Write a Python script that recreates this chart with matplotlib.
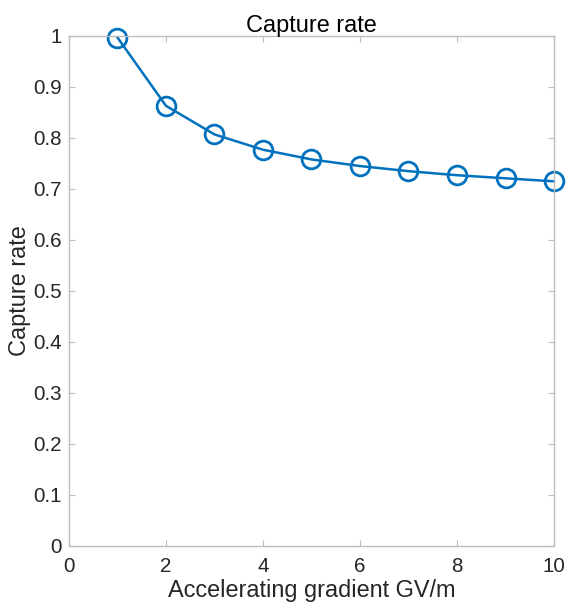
import matplotlib.pyplot as plt
import numpy as np

# data
gradient = [1, 2, 3, 4, 5, 6, 7, 8, 9, 10]
capture_rate = [0.997, 0.863, 0.807, 0.777, 0.758, 0.745, 0.735, 0.727, 0.721, 0.715]

plt.rcParams['font.family'] = ['Liberation Sans', 'DejaVu Sans']

fig = plt.figure(figsize=(5.66, 6.07), dpi=100)
ax = fig.add_axes([0.1219, 0.1005, 0.8569, 0.8402])

ax.plot(gradient, capture_rate, color='#0072BD', linewidth=1.8,
        marker='o', markersize=13.5, markerfacecolor='none',
        markeredgewidth=2, clip_on=False)

ax.set_xlim(0, 10)
ax.set_ylim(0, 1)
ax.set_xticks(np.arange(0, 11, 2))
ax.set_yticks(np.arange(0, 1.01, 0.1))
ax.set_yticklabels(['0', '0.1', '0.2', '0.3', '0.4', '0.5', '0.6', '0.7', '0.8', '0.9', '1'])

for s in ax.spines.values():
    s.set_color('#bdbdbd')
    s.set_linewidth(1.0)
ax.tick_params(direction='in', top=True, right=True, length=4, width=0.8,
               color='#bdbdbd', labelsize=14.8, labelcolor='#262626')
ax.tick_params(axis='x', pad=8)
ax.tick_params(axis='y', pad=5)

ax.set_title('Capture rate', fontsize=16.9, color='black', pad=3)
ax.set_xlabel('Accelerating gradient GV/m', fontsize=16.9, color='#262626', labelpad=2)
ax.set_ylabel('Capture rate', fontsize=16.9, color='#262626', labelpad=1.5)

fig.savefig('out.png', dpi=100)
